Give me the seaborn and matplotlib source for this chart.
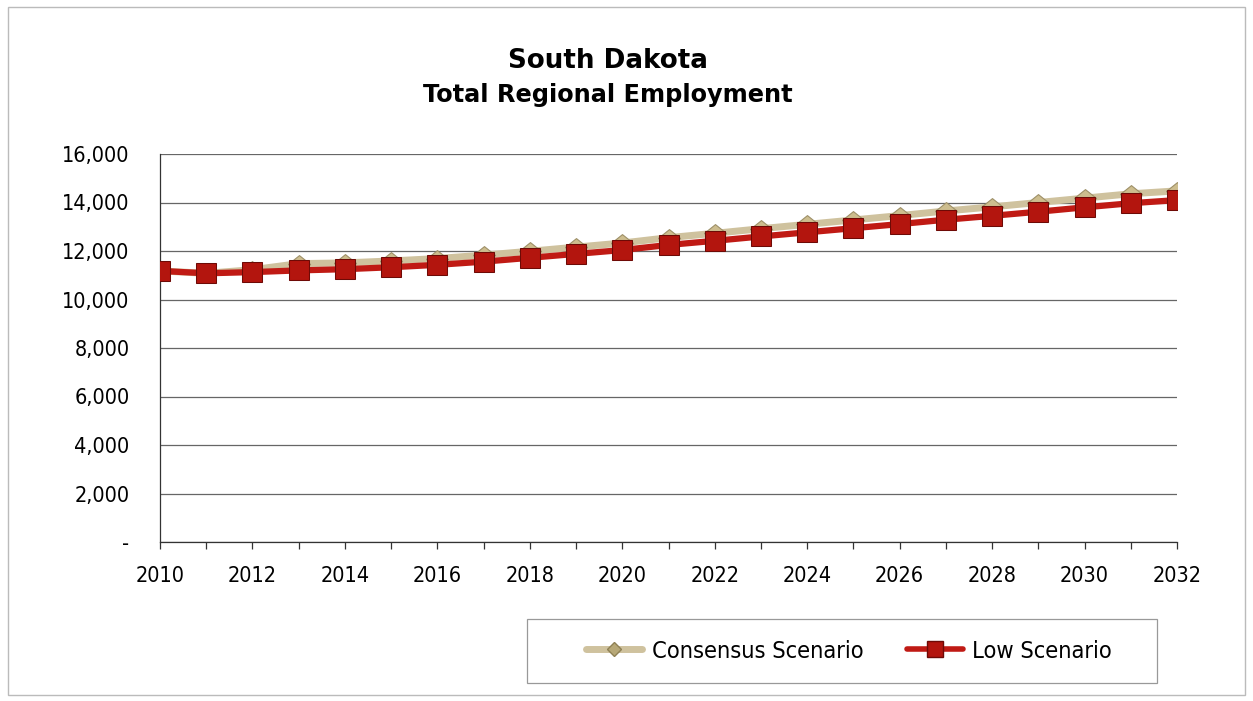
import numpy as np
import pandas as pd
import matplotlib
matplotlib.use("Agg")
import matplotlib.pyplot as plt
import seaborn as sns
from matplotlib.ticker import FuncFormatter, FixedLocator
from matplotlib.patches import Rectangle

# Данни, отчетени от графиката
years = list(range(2010, 2033))
consensus = [11180, 11080, 11230, 11480, 11510, 11590, 11690, 11830, 11990, 12160, 12330,
             12550, 12730, 12920, 13100, 13280, 13460, 13650, 13820, 14000, 14180, 14360, 14480]
low = [11180, 11080, 11130, 11200, 11250, 11330, 11430, 11560, 11720, 11880, 12040,
       12250, 12420, 12600, 12770, 12940, 13110, 13290, 13450, 13620, 13800, 13970, 14100]
series_names = ["Consensus Scenario", "Low Scenario"]
y_ticks = list(range(0, 16001, 2000))

df = pd.DataFrame({
    "year": years * 2,
    "employment": consensus + low,
    "scenario": [series_names[0]] * len(years) + [series_names[1]] * len(years),
})

sns.set_style("white")
plt.rcParams["font.family"] = ["DejaVu Sans"]
plt.rcParams["font.stretch"] = "condensed"
plt.rcParams["text.color"] = "black"
plt.rcParams["xtick.color"] = "black"
plt.rcParams["ytick.color"] = "black"

fig = plt.figure(figsize=(12.53, 7.01), dpi=100)
ax = fig.add_axes([160 / 1253, 1 - 542 / 701, (1177 - 160) / 1253, (542 - 154) / 701])

# Плосък ромб – отгоре се вижда само "покривчето" над квадрата
flat_diamond = [(-1, 0), (0, 0.8), (1, 0), (0, -0.8), (-1, 0)]

palette = {series_names[0]: "#CFC29E", series_names[1]: "#C01A14"}
sns.lineplot(data=df, x="year", y="employment", hue="scenario", style="scenario",
             palette=palette, markers={series_names[0]: flat_diamond, series_names[1]: "s"},
             dashes=False, ax=ax, legend=False)

lines = ax.get_lines()
# Consensus — бежова линия
lines[0].set_linewidth(5)
lines[0].set_markersize(16)
lines[0].set_markerfacecolor("#CDBD8E")
lines[0].set_markeredgecolor("#9E9068")
lines[0].set_markeredgewidth(0.8)
lines[0].set_zorder(3)
# Low — червена линия с квадрати
lines[1].set_linewidth(4.5)
lines[1].set_markersize(15)
lines[1].set_markerfacecolor("#B3150E")
lines[1].set_markeredgecolor("#6E0A06")
lines[1].set_zorder(4)

ax.set_xlim(2010, 2032)
ax.set_ylim(0, 16000)
ax.set_xlabel("")
ax.set_ylabel("")

ax.xaxis.set_major_locator(FixedLocator(years))
ax.set_xticklabels([str(y) if y % 2 == 0 else "" for y in years])
ax.set_yticks(y_ticks)
ax.yaxis.set_major_formatter(FuncFormatter(lambda v, p: "-" if v == 0 else f"{v:,.0f}"))

ax.tick_params(axis="x", direction="out", length=5, width=0.9, color="#333333",
               pad=12, labelsize=15.5, bottom=True)
ax.tick_params(axis="y", length=0, pad=22, labelsize=15.5)

ax.grid(axis="y", color="#666666", linewidth=0.9)
ax.grid(axis="x", visible=False)
for side in ["top", "right"]:
    ax.spines[side].set_visible(False)
for side in ["left", "bottom"]:
    ax.spines[side].set_color("#333333")
    ax.spines[side].set_linewidth(0.9)

# Заглавие
fig.text(608 / 1253, 1 - 61 / 701, "South Dakota", ha="center", va="center",
         fontsize=18.8, fontweight="bold", fontstretch="normal")
fig.text(608 / 1253, 1 - 95 / 701, "Total Regional Employment", ha="center", va="center",
         fontsize=17.3, fontweight="bold", fontstretch="normal")

# Легенда
handles = [
    plt.Line2D([], [], color="#CFC29E", lw=5, marker="D", markersize=7,
               markerfacecolor="#B7A877", markeredgecolor="#8F8155"),
    plt.Line2D([], [], color="#C01A14", lw=4, marker="s", markersize=11,
               markerfacecolor="#B3150E", markeredgecolor="#6E0A06"),
]
fig.legend(handles, series_names, ncol=2, loc="center",
           bbox_to_anchor=(849 / 1253, 1 - 651 / 701),
           frameon=False, fontsize=16.9, handlelength=2.4,
           handletextpad=0.4, columnspacing=1.85)
fig.patches.append(Rectangle((527 / 1253, 1 - 683 / 701), 630 / 1253, 64 / 701,
                             transform=fig.transFigure, fill=False,
                             edgecolor="#999999", linewidth=0.9))

# Рамка около цялата фигура
fig.patches.append(Rectangle((8 / 1253, 6 / 701), 1237 / 1253, 688 / 701,
                             transform=fig.transFigure, fill=False,
                             edgecolor="#BBBBBB", linewidth=1))

fig.savefig("out.png", dpi=100)
